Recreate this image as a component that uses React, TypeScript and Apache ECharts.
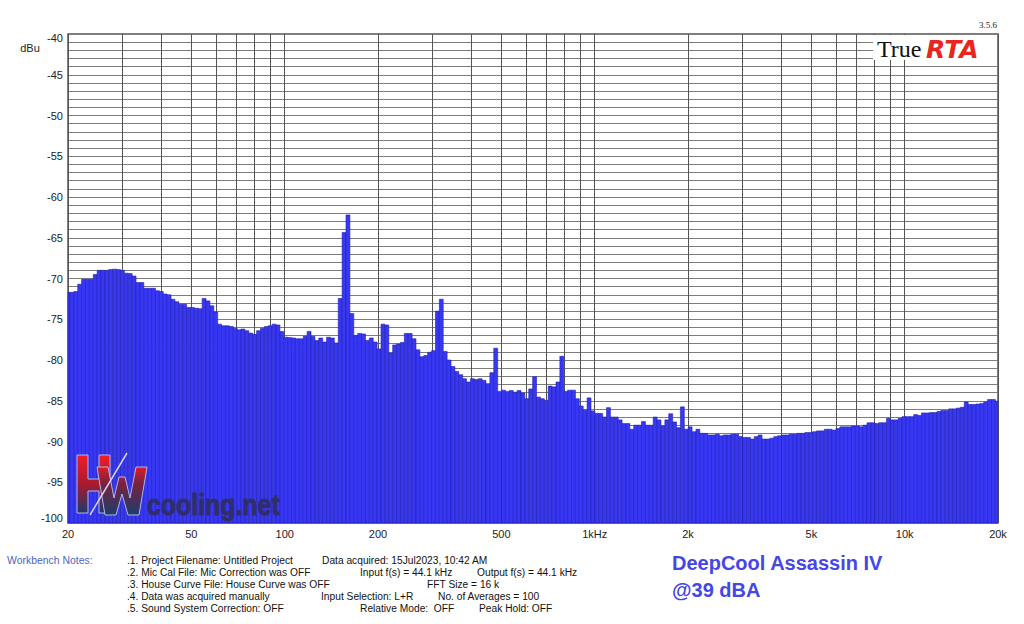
import React, { useEffect, useRef } from 'react';
import * as echarts from 'echarts';

// ---- data (1/24-octave RTA bands, dBu) ----
const octaveStarts = [20, 40, 80, 160, 320, 640, 1280, 2560, 5120, 10240];
const BANDS_PER_OCTAVE = 24;

const octave20 = [-71.7, -71.7, -71.6, -70.7, -70.1, -70.1, -70.1, -69.5, -69.0, -69.0, -69.0, -68.9, -68.85, -68.9, -69.0, -69.35, -69.4, -69.7, -70.5, -70.5, -71.2, -71.2, -71.2, -71.5];
const octave40 = [-71.6, -71.9, -72.0, -72.55, -72.85, -73.15, -73.15, -73.55, -73.55, -73.65, -73.7, -72.45, -72.75, -73.35, -74.1, -75.6, -75.8, -75.8, -75.9, -76.1, -76.3, -76.2, -76.4, -76.7];
const octave80 = [-76.85, -76.4, -76.1, -75.9, -75.8, -75.6, -75.7, -76.5, -77.2, -77.25, -77.3, -77.4, -77.4, -77.1, -76.5, -77.1, -77.6, -77.3, -77.8, -77.2, -77.3, -77.9, -72.45, -64.35];
const octave160 = [-62.2, -74.3, -77.0, -76.75, -76.8, -77.6, -77.3, -77.8, -78.65, -75.6, -75.7, -79.15, -78.15, -78.05, -77.85, -76.75, -76.75, -77.4, -78.75, -79.6, -79.45, -79.05, -78.85, -74.0];
const octave320 = [-72.55, -78.95, -80.0, -80.8, -81.4, -81.8, -82.3, -82.7, -82.3, -82.4, -82.3, -82.5, -82.9, -81.55, -78.55, -83.85, -83.7, -83.85, -83.75, -83.95, -83.75, -84.05, -84.75, -83.55];
const octave640 = [-82.05, -84.55, -84.75, -84.95, -83.2, -83.3, -82.7, -79.55, -83.85, -83.7, -83.7, -84.75, -85.65, -86.15, -84.65, -86.25, -86.55, -86.55, -87.0, -85.85, -87.0, -87.0, -87.35, -87.8];
const octave1280 = [-87.8, -88.5, -88.0, -88.0, -87.55, -88.0, -88.0, -87.0, -87.35, -88.1, -87.35, -86.6, -87.6, -88.3, -85.75, -88.5, -88.2, -88.8, -88.5, -89.0, -89.0, -89.2, -89.2, -89.1];
const octave2560 = [-89.3, -89.2, -89.2, -89.1, -89.1, -89.4, -89.5, -89.5, -89.7, -89.4, -89.2, -89.7, -89.7, -89.6, -89.4, -89.3, -89.2, -89.2, -89.1, -89.1, -89.0, -89.0, -88.9, -88.9];
const octave5120 = [-88.8, -88.7, -88.7, -88.5, -88.5, -88.6, -88.4, -88.2, -88.2, -88.2, -88.1, -88.1, -88.2, -88.0, -87.7, -87.7, -87.8, -87.7, -87.7, -87.15, -87.35, -87.35, -87.15, -86.95];
const octave10240 = [-86.95, -86.95, -86.7, -86.8, -86.5, -86.5, -86.45, -86.45, -86.3, -86.2, -86.2, -86.0, -86.0, -85.9, -85.8, -85.15, -85.45, -85.45, -85.4, -85.35, -85.15, -84.85, -84.85, -85.05];
const octaveLevels = [octave20, octave40, octave80, octave160, octave320, octave640, octave1280, octave2560, octave5120, octave10240];

const X_MIN = 20;
const X_MAX = 20000;
const Y_MIN = -100;
const Y_MAX = -40;

const xLabelValues = [20, 50, 100, 200, 500, 1000, 2000, 5000, 10000, 20000];
const xLabelTexts = ['20', '50', '100', '200', '500', '1kHz', '2k', '5k', '10k', '20k'];
const xGridValues = [20, 30, 40, 50, 60, 70, 80, 90, 100, 200, 300, 400, 500, 600, 700, 800, 900, 1000, 2000, 3000, 4000, 5000, 6000, 7000, 8000, 9000, 10000, 20000];
const yLabelValues = [-100, -95, -90, -85, -80, -75, -70, -65, -60, -55, -50, -45, -40];

const notesTitle = 'Workbench Notes:';
const noteRows: [number, string][][] = [
  [[127, '.1. Project Filename: Untitled Project'], [322, 'Data acquired: 15Jul2023, 10:42 AM']],
  [[127, '.2. Mic Cal File: Mic Correction was OFF'], [360, 'Input f(s) = 44.1 kHz'], [477, 'Output f(s) = 44.1 kHz']],
  [[127, '.3. House Curve File: House Curve was OFF'], [427, 'FFT Size = 16 k']],
  [[127, '.4. Data was acquired manually'], [321, 'Input Selection: L+R'], [438, 'No. of Averages = 100']],
  [[127, '.5. Sound System Correction: OFF'], [360, 'Relative Mode:  OFF'], [479, 'Peak Hold: OFF']],
];
const titleLines = ['DeepCool Assassin IV', '@39 dBA'];

const BAR_FILL = '#3838f4';
const BAR_STROKE = '#2020b0';
const SANS = '"Liberation Sans", Arial, sans-serif';
const SERIF = '"Liberation Serif", "Times New Roman", serif';

function buildData(): [number, number][] {
  const out: [number, number][] = [];
  octaveLevels.forEach((levels, k) => {
    levels.forEach((v, j) => {
      out.push([octaveStarts[k] * Math.pow(2, j / BANDS_PER_OCTAVE), v]);
    });
  });
  return out;
}

function xLabel(v: number): string {
  for (let i = 0; i < xLabelValues.length; i++) {
    if (Math.abs(Math.log10(v / xLabelValues[i])) < 0.005) return xLabelTexts[i];
  }
  return '';
}

// watermark letter outlines (decoration only)
const letterH = [[77, 455], [88, 455], [88, 479], [99, 479], [99, 455], [110, 455], [110, 513], [99, 513], [99, 491], [88, 491], [88, 513], [77, 513]];
const letterW = [[97, 467], [108, 467], [114, 498], [119, 477], [125, 477], [130, 498], [136, 467], [147, 467], [139, 515], [128, 515], [122, 494], [116, 515], [105, 515]];

export default function App() {
  const ref = useRef<HTMLDivElement>(null);
  useEffect(() => {
    document.body.style.margin = '0';
    const chart = echarts.init(ref.current!, null, { renderer: 'svg' });
    const half = Math.pow(2, 1 / (2 * BANDS_PER_OCTAVE));

    const rowY = [560, 572, 584, 596, 608];
    const noteEls: any[] = [
      {
        type: 'text', x: 7, y: rowY[0], scaleX: 0.95, z: 20,
        style: { text: notesTitle, fill: '#4d63c4', font: `11px ${SANS}`, textAlign: 'left', textVerticalAlign: 'middle' },
      },
    ];
    noteRows.forEach((row, r) => {
      row.forEach(([x, t]) => {
        noteEls.push({
          type: 'text', x, y: rowY[r], scaleX: 0.93, z: 20,
          style: { text: t, fill: '#111', font: `11px ${SANS}`, textAlign: 'left', textVerticalAlign: 'middle' },
        });
      });
    });

    const gradH = new echarts.graphic.LinearGradient(0, 0, 0, 1, [
      { offset: 0, color: '#f21d26' },
      { offset: 0.5, color: '#a81b2e' },
      { offset: 1, color: '#1d3868' },
    ]);
    const gradW = new echarts.graphic.LinearGradient(0, 0, 0, 1, [
      { offset: 0, color: '#d81e2a' },
      { offset: 0.35, color: '#7a2140' },
      { offset: 1, color: '#1c3d6c' },
    ]);

    const option: any = {
      animation: false,
      backgroundColor: '#ffffff',
      grid: { left: 68, right: 26, top: 34, bottom: 101, show: true, borderColor: '#555', borderWidth: 1.5, backgroundColor: '#fff' },
      xAxis: {
        type: 'log', logBase: 10, min: X_MIN, max: X_MAX,
        axisLine: { show: false },
        axisTick: { show: false, customValues: xGridValues },
        minorTick: { show: false },
        axisLabel: {
          customValues: xLabelValues, formatter: (v: number) => xLabel(v),
          color: '#222', fontSize: 11, fontFamily: SANS, margin: 5, showMinLabel: true, showMaxLabel: true,
        },
        splitLine: { show: true, lineStyle: { color: '#555', width: 1 } },
      },
      yAxis: {
        type: 'value', min: Y_MIN, max: Y_MAX, interval: 1,
        axisLine: { show: false }, axisTick: { show: false },
        axisLabel: {
          customValues: yLabelValues,
          formatter: (v: number) => (v === Y_MAX ? `{t|${v}}` : v === Y_MIN ? `{b|${v}}` : `${v}`),
          color: '#222', fontSize: 11, fontFamily: SANS, margin: 5,
          rich: {
            t: { padding: [7, 0, 0, 0], fontSize: 11, fontFamily: SANS, color: '#222' },
            b: { padding: [0, 0, 11, 0], fontSize: 11, fontFamily: SANS, color: '#222' },
          },
        },
        splitLine: { show: true, lineStyle: { color: '#7c7c7c', width: 1 } },
      },
      series: [
        {
          type: 'custom',
          data: buildData(),
          encode: { x: 0, y: 1 },
          renderItem: (_p: any, api: any) => {
            const f = api.value(0) as number;
            const v = api.value(1) as number;
            const lo = Math.max(X_MIN, f / half);
            const hi = Math.min(X_MAX, f * half);
            const tl = api.coord([lo, v]);
            const br = api.coord([hi, Y_MIN]);
            return {
              type: 'rect',
              shape: { x: tl[0], y: tl[1], width: br[0] - tl[0], height: br[1] - tl[1] },
              style: { fill: BAR_FILL, stroke: BAR_STROKE, lineWidth: 0.6 },
            };
          },
        },
      ],
      graphic: {
        elements: [
          { type: 'text', x: 30, y: 48, z: 20, style: { text: 'dBu', fill: '#222', font: `11px ${SANS}`, textAlign: 'center', textVerticalAlign: 'middle' } },
          { type: 'text', x: 997, y: 25, z: 20, style: { text: '3.5.6', fill: '#222', font: `9px ${SERIF}`, textAlign: 'right', textVerticalAlign: 'middle' } },
          { type: 'rect', z: 15, shape: { x: 873, y: 35, width: 124, height: 25 }, style: { fill: '#fff' } },
          { type: 'text', x: 877, y: 48.7, z: 20, style: { text: 'True', fill: '#111', font: `24px ${SERIF}`, textAlign: 'left', textVerticalAlign: 'middle' } },
          { type: 'text', x: 926, y: 49.5, z: 20, style: { text: 'RTA', fill: '#e8251f', fontStyle: 'italic', fontWeight: 900, fontSize: 25, fontFamily: '"DejaVu Sans", "Liberation Sans", sans-serif', textAlign: 'left', textVerticalAlign: 'middle' } },
          // HWcooling watermark
          { type: 'polygon', z: 20, shape: { points: letterH }, style: { fill: gradH, stroke: '#b4b4e4', lineWidth: 1 } },
          { type: 'polygon', z: 21, shape: { points: letterW }, style: { fill: gradW, stroke: '#b4b4e4', lineWidth: 1 } },
          { type: 'line', z: 22, shape: { x1: 90, y1: 515, x2: 127, y2: 453 }, style: { stroke: '#d4d4f2', lineWidth: 1.5 } },
          { type: 'text', x: 147, y: 505, scaleX: 0.83, z: 20, style: { text: 'cooling.net', fill: '#302e6a', stroke: '#302e6a', lineWidth: 1, font: `bold 30px ${SANS}`, textAlign: 'left', textVerticalAlign: 'middle' } },
          // product title
          { type: 'text', x: 672, y: 563, z: 20, style: { text: titleLines[0], fill: '#4646e6', font: `bold 20px ${SANS}`, textAlign: 'left', textVerticalAlign: 'middle' } },
          { type: 'text', x: 672, y: 590, z: 20, style: { text: titleLines[1], fill: '#4646e6', font: `bold 20px ${SANS}`, textAlign: 'left', textVerticalAlign: 'middle' } },
          ...noteEls,
        ],
      },
    };
    chart.setOption(option);
    return () => chart.dispose();
  }, []);
  return <div ref={ref} style={{ width: 1024, height: 624 }} />;
}
